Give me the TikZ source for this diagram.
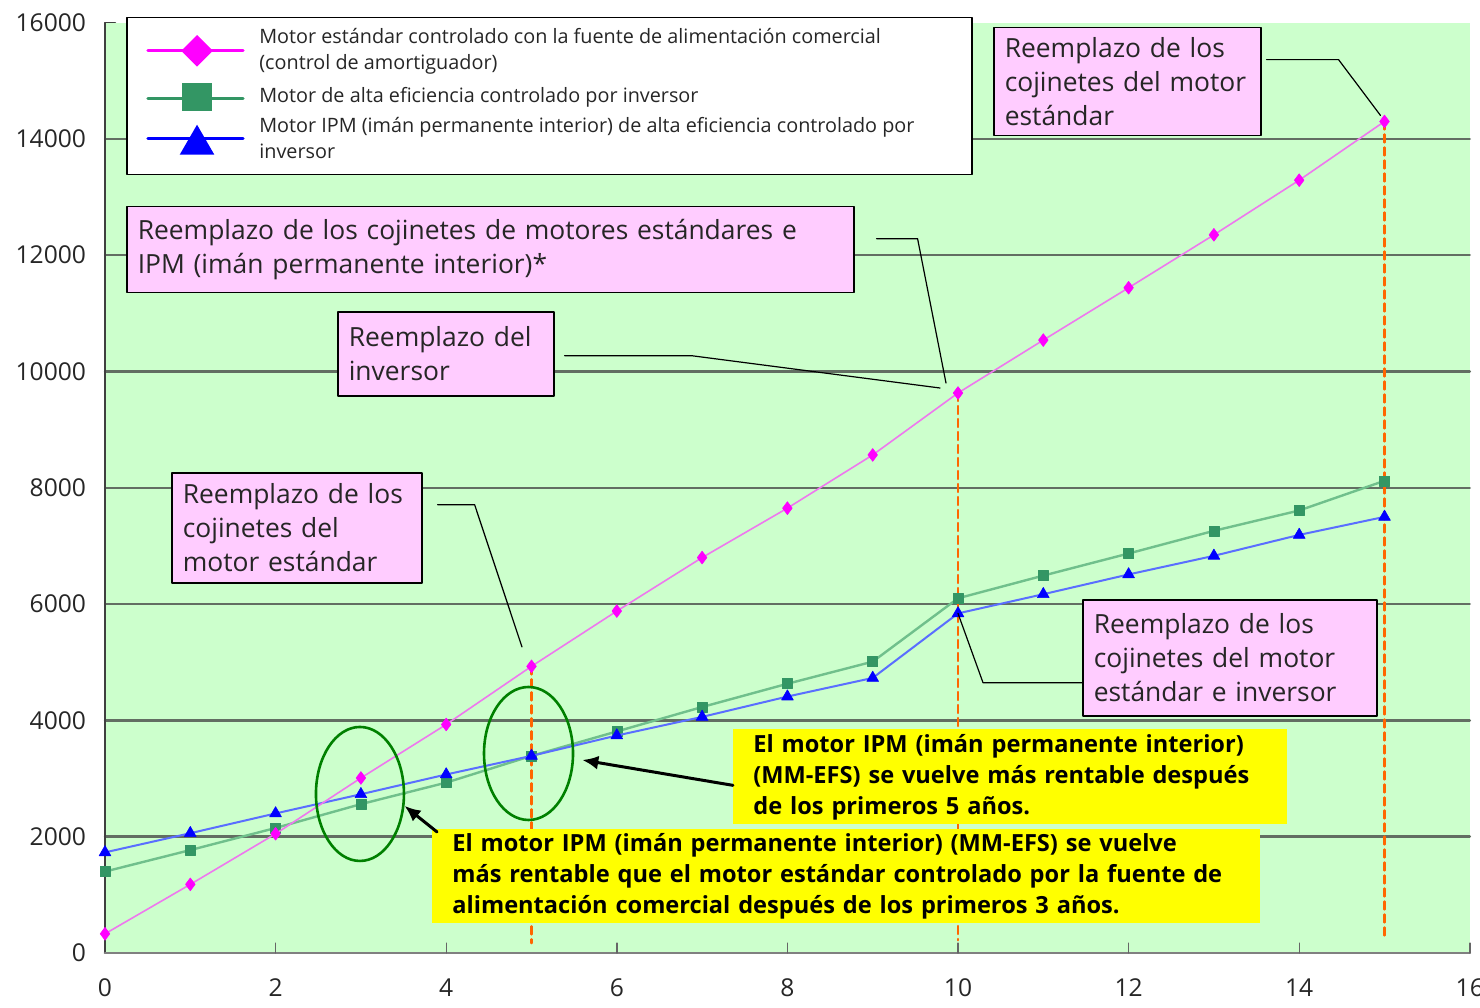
\documentclass[tikz,border=0pt]{standalone}
\usepackage{fontspec}
\setmainfont{Open Sans}
\usetikzlibrary{shapes.geometric,plotmarks,arrows.meta}
\definecolor{plotbg}{RGB}{204,255,204}
\definecolor{gridgray}{RGB}{98,110,98}
\definecolor{stdpink}{RGB}{255,0,255}
\definecolor{stdline}{RGB}{238,120,238}
\definecolor{effgreen}{RGB}{51,150,100}
\definecolor{effline}{RGB}{112,192,140}
\definecolor{ipmblue}{RGB}{0,0,255}
\definecolor{ipmline}{RGB}{90,110,255}
\definecolor{notepink}{RGB}{255,204,255}
\definecolor{noteyellow}{RGB}{255,255,0}
\definecolor{dashorange}{RGB}{255,102,0}
\definecolor{ringgreen}{RGB}{0,128,0}
\tikzset{
  notebox/.style={draw=black,line width=0.8pt,fill=notepink,anchor=north west,
    inner xsep=5.5pt,inner ysep=2pt,align=left,text=black!85,
    font=\fontsize{13.2}{17}\selectfont},
  hintbox/.style={fill=noteyellow,anchor=north west,inner xsep=10pt,inner ysep=2pt,
    align=left,font=\bfseries\fontsize{11.8}{15.5}\selectfont},
  legtext/.style={anchor=west,align=left,inner sep=0pt,text=black!85,
    font=\fontsize{9.9}{13}\selectfont},
  axislabel/.style={text=black!85,font=\fontsize{12.3}{14}\selectfont},
  leader/.style={draw=black,line width=0.6pt},
  ring/.style={draw=ringgreen,ellipse,line width=1.3pt,inner sep=0pt},
  yearline/.style={draw=dashorange,line width=1.2pt,dash pattern=on 4pt off 2.5pt},
  gridline/.style={draw=gridgray,line width=1.2pt},
}
\begin{document}
\begin{tikzpicture}[x=42.65pt,y=29.075pt,line cap=round,line join=round,>={Latex[length=8pt,width=7pt]}]
	\useasboundingbox (-52.5pt,-27.5pt) rectangle (687.5pt,476.5pt);
	% plot area
	\fill[plotbg] (0,0) rectangle (16,16);
	\foreach \v in {2,4,...,14} \draw[gridline] (0,\v) -- (16,\v);
	\draw[black!75,line width=0.8pt] (0,0) -- (0,16) -- (0.12,16);
	\draw[black!50,line width=1.4pt] (0,0) -- (16,0);
	\foreach \k in {2,4,...,16} \draw[black!60,line width=0.7pt] (\k,0) -- (\k,0.17);
	\foreach \k in {0,2,...,16} \node[axislabel] (xl\k) at (\k,-0.6) {\k};
	\foreach \v in {0,2,...,16} {
		\pgfmathtruncatemacro\lab{\v*1000}
		\node[axislabel,anchor=east] (yl\v) at (-0.14,\v) {\lab};
	}
	% points used by the callouts
	\coordinate (p5) at (5,4.93);
	\coordinate (p10) at (10,9.63);
	\coordinate (p15) at (15,14.30);
	\coordinate (b10) at (10,5.84);
	\draw[yearline] (p5) -- (5,0.17);
	\draw[yearline] (p10) -- (10,0.22);
	\draw[yearline] (p15) -- (15,0.22);
	% data
	\draw[effline,line width=1.2pt,mark=square*,mark size=2.5pt,mark options={draw=effgreen,fill=effgreen,line width=0.3pt}]
		plot coordinates {(0,1.40) (1,1.77) (2,2.15) (3,2.56) (4,2.93) (5,3.39) (6,3.81) (7,4.23) (8,4.63) (9,5.01) (10,6.10) (11,6.49) (12,6.87) (13,7.26) (14,7.61) (15,8.12)};
	\draw[ipmline,line width=1pt,mark=triangle*,mark size=3.4pt,mark options={draw=ipmblue,fill=ipmblue,line width=0.3pt}]
		plot coordinates {(0,1.73) (1,2.06) (2,2.40) (3,2.73) (4,3.07) (5,3.39) (6,3.74) (7,4.06) (8,4.41) (9,4.73) (10,5.84) (11,6.17) (12,6.51) (13,6.83) (14,7.19) (15,7.50)};
	\draw[stdline,line width=0.8pt,mark=diamond*,mark size=3.2pt,mark options={draw=stdpink,fill=stdpink,line width=0.3pt}]
		plot coordinates {(0,0.33) (1,1.18) (2,2.05) (3,3.01) (4,3.93) (5,4.93) (6,5.88) (7,6.80) (8,7.65) (9,8.565) (10,9.63) (11,10.54) (12,11.44) (13,12.35) (14,13.29) (15,14.30)};
	% legend
	\node[draw=black,line width=0.8pt,fill=white,anchor=north west,minimum width=422.5pt,minimum height=78.5pt,inner sep=0pt] (legend) at (0.246,16.099) {};
	\draw[stdpink,line width=1.6pt] (0.504,15.514) -- (1.618,15.514);
	\node[diamond,fill=stdpink,minimum width=16pt,minimum height=16pt,inner sep=0pt] (legmkA) at (1.079,15.514) {};
	\draw[effgreen,line width=1.6pt] (0.504,14.70) -- (1.618,14.70);
	\node[fill=effgreen,minimum width=15pt,minimum height=14pt,inner sep=0pt] (legmkB) at (1.079,14.723) {};
	\draw[ipmblue,line width=1.6pt] (0.504,14.0) -- (1.618,14.0);
	\node[regular polygon,regular polygon sides=3,fill=ipmblue,minimum size=20pt,inner sep=0pt] (legmkC) at (1.079,13.90) {};
	\node[legtext] (legtxtA) at (1.805,15.514) {Motor estándar controlado con la fuente de alimentación comercial\\(control de amortiguador)};
	\node[legtext] (legtxtB) at (1.805,14.723) {Motor de alta eficiencia controlado por inversor};
	\node[legtext] (legtxtC) at (1.805,14.009) {Motor IPM (imán permanente interior) de alta eficiencia controlado por\\inversor};
	% callouts
	\node[notebox,text width=122.5pt,minimum height=54pt] (estA) at (10.410,15.927) {Reemplazo de los\\cojinetes del motor\\estándar};
	\node[notebox,text width=352.5pt,minimum height=43pt] (estB) at (0.246,12.848) {Reemplazo de los cojinetes de motores estándares e\\IPM (imán permanente interior)*};
	\node[notebox,text width=97pt,minimum height=42pt] (estC) at (2.720,11.042) {Reemplazo del\\inversor};
	\node[notebox,text width=114pt,minimum height=55pt] (estD) at (0.774,8.273) {Reemplazo de los\\cojinetes del\\motor estándar};
	\node[notebox,text width=136pt,minimum height=58pt] (estE) at (11.454,6.089) {Reemplazo de los\\cojinetes del motor\\estándar e inversor};
	\draw[leader] ([xshift=2.5pt,yshift=11pt]estA.east) -- ++(36pt,0) -- ([xshift=-2pt,yshift=3pt]p15);
	\draw[leader] ([xshift=11pt,yshift=5.5pt]estB.east) -- ++(20.5pt,0) -- ([xshift=-6pt,yshift=5pt]p10);
	\draw[leader] ([xshift=5pt,yshift=-1pt]estC.east) -- ++(63.5pt,0) -- ([xshift=-9pt,yshift=2.5pt]p10);
	\draw[leader] ([xshift=7.5pt,yshift=11.5pt]estD.east) -- ++(18.5pt,0) -- ([xshift=-4.75pt,yshift=9.7pt]p5);
	\draw[leader] ([yshift=-12.5pt]estE.west) -- ++(-49.5pt,0) -- (b10);
	% circled crossings
	\node[ring,minimum width=44pt,minimum height=67pt] (ell1) at (2.989,2.735) {};
	\node[ring,minimum width=44.5pt,minimum height=66.5pt] (ell2) at (4.965,3.431) {};
	\node[hintbox,text width=257pt,minimum height=47.5pt] (yelF) at (7.362,3.853) {El motor IPM (imán permanente interior)\\(MM-EFS) se vuelve más rentable después\\de los primeros 5 años.};
	\node[hintbox,text width=394pt,minimum height=46pt] (yelG) at (3.834,2.133) {El motor IPM (imán permanente interior) (MM-EFS) se vuelve\\más rentable que el motor estándar controlado por la fuente de\\alimentación comercial después de los primeros 3 años.};
	\draw[->,line width=1.5pt] ([yshift=-4.25pt]yelF.west) -- ([xshift=4pt,yshift=-3.25pt]ell2.east);
	\draw[->,line width=1.5pt] ([xshift=2.5pt,yshift=-1.5pt]yelG.north west) -- (ell1.-15);
\end{tikzpicture}
\end{document}
